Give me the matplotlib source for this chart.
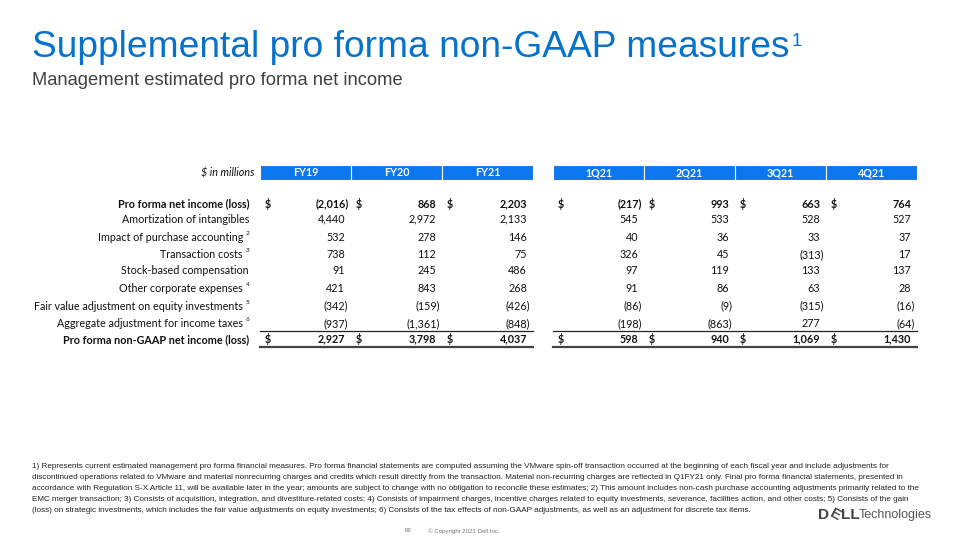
import matplotlib
matplotlib.use("Agg")
import matplotlib.pyplot as plt
from matplotlib.patches import Rectangle

# ---- data ----
row_labels = [
    "Pro forma net income (loss)",
    "Amortization of intangibles",
    "Impact of purchase accounting",
    "Transaction costs",
    "Stock-based compensation",
    "Other corporate expenses",
    "Fair value adjustment on equity investments",
    "Aggregate adjustment for income taxes",
    "Pro forma non-GAAP net income (loss)",
]
row_sups = ["", "", "2", "3", "", "4", "5", "6", ""]
bold_rows = [0, 8]
dollar_rows = [0, 8]

fy_cols = ["FY19", "FY20", "FY21"]
q_cols = ["1Q21", "2Q21", "3Q21", "4Q21"]

fy19 = [-2016, 4440, 532, 738, 91, 421, -342, -937, 2927]
fy20 = [868, 2972, 278, 112, 245, 843, -159, -1361, 3798]
fy21 = [2203, 2133, 146, 75, 486, 268, -426, -848, 4037]
q1_21 = [-217, 545, 40, 326, 97, 91, -86, -198, 598]
q2_21 = [993, 533, 36, 45, 119, 86, -9, -863, 940]
q3_21 = [663, 528, 33, -313, 133, 63, -315, 277, 1069]
q4_21 = [764, 527, 37, 17, 137, 28, -16, -64, 1430]

title = "Supplemental pro forma non-GAAP measures"
subtitle = "Management estimated pro forma net income"
footnotes = [
    "1) Represents current estimated management pro forma financial measures. Pro forma financial statements are computed assuming the VMware spin-off transaction occurred at the beginning of each fiscal year and include adjustments for",
    "discontinued operations related to VMware and material nonrecurring charges and credits which result directly from the transaction. Material non-recurring charges are reflected in Q1FY21 only. Final pro forma financial statements, presented in",
    "accordance with Regulation S-X Article 11, will be available later in the year; amounts are subject to change with no obligation to reconcile these estimates; 2) This amount includes non-cash purchase accounting adjustments primarily related to the",
    "EMC merger transaction; 3) Consists of acquisition, integration, and divestiture-related costs; 4) Consists of impairment charges, incentive charges related to equity investments, severance, facilities action, and other costs; 5) Consists of the gain",
    "(loss) on strategic investments, which includes the fair value adjustments on equity investments; 6) Consists of the tax effects of non-GAAP adjustments, as well as an adjustment for discrete tax items.",
]

DELL_BLUE = "#0672CB"
HEAD_BLUE = "#0B76EE"
TAB_FONT = "Lato"
SANS = "Liberation Sans"

fig = plt.figure(figsize=(9.6, 5.4), dpi=100)
ax = fig.add_axes([0, 0, 1, 1])
ax.set_xlim(0, 960)
ax.set_ylim(540, 0)
ax.axis("off")
renderer = fig.canvas.get_renderer()


def fit_size(text, width, **kw):
    # font size that makes text span the given pixel width
    t = ax.text(0, 0, text, fontsize=10, **kw)
    w = t.get_window_extent(renderer).width
    t.remove()
    return 10 * width / w


def text_w(t):
    return t.get_window_extent(renderer).width


# ---- title ----
ts = fit_size(title, 758, family=SANS)
t = ax.text(32, 57, title, fontsize=ts, family=SANS, color=DELL_BLUE, va="baseline")
ax.text(32 + text_w(t) + 2, 46, "1", fontsize=ts * 0.5, family=SANS,
        color=DELL_BLUE, va="baseline")
ss = fit_size(subtitle, 372, family=SANS)
ax.text(32, 85, subtitle, fontsize=ss, family=SANS, color="#404040", va="baseline")

# ---- table ----
col_w = 91
fy_x0 = 260
q_x0 = 553
head_y, head_h = 165, 15
fy_data = [fy19, fy20, fy21]
q_data = [q1_21, q2_21, q3_21, q4_21]

lab_size = fit_size(row_labels[1], 128, family=TAB_FONT)

ax.text(254, head_y + head_h / 2, "$ in millions", fontsize=lab_size, family=TAB_FONT,
        style="italic", ha="right", va="center", color="#111111")

# row y positions: rows with a footnote mark are taller
row_y = []
y = 204
for i, s in enumerate(row_sups):
    if i > 0:
        y += 17.8 if s else 15.4
    row_y.append(y)

for i, lab in enumerate(row_labels):
    w = "bold" if i in bold_rows else "normal"
    xr = 249 - (6 if row_sups[i] else 0)
    ax.text(xr, row_y[i], lab, fontsize=lab_size, family=TAB_FONT, fontweight=w,
            ha="right", va="center", color="#111111")
    if row_sups[i]:
        ax.text(xr + 2.5, row_y[i] - 4, row_sups[i], fontsize=lab_size * 0.6,
                family=TAB_FONT, ha="left", va="center", color="#111111")


def fmt(v):
    s = f"{abs(v):,}"
    return f"({s})" if v < 0 else s


def draw_group(x0, names, data):
    for j, (name, vals) in enumerate(zip(names, data)):
        left = x0 + j * col_w
        ax.add_patch(Rectangle((left, head_y), col_w, head_h, facecolor=HEAD_BLUE,
                               edgecolor="white", lw=0.8))
        ax.text(left + col_w / 2, head_y + head_h / 2 + 0.5, name, fontsize=lab_size,
                family=TAB_FONT, fontweight="bold", color="white", ha="center", va="center")
        for i, v in enumerate(vals):
            w = "bold" if i in bold_rows else "normal"
            xr = left + (88.5 if v < 0 else 85)
            ax.text(xr, row_y[i], fmt(v), fontsize=lab_size, family=TAB_FONT, fontweight=w,
                    ha="right", va="center", color="#111111")
            if i in dollar_rows:
                ax.text(left + 5, row_y[i], "$", fontsize=lab_size, family=TAB_FONT,
                        fontweight="bold", ha="left", va="center", color="#111111")
    right = x0 + len(names) * col_w
    ax.plot([x0, right], [331, 331], color="#222222", lw=0.9)
    ax.plot([x0, right], [346.5, 346.5], color="#444444", lw=1.6)


draw_group(fy_x0, fy_cols, fy_data)
draw_group(q_x0, q_cols, q_data)

# ---- footnotes ----
FN_FONT = ["Liberation Sans Narrow", "Liberation Sans"]
fs = fit_size(footnotes[2], 896, family=FN_FONT)
for k, line in enumerate(footnotes):
    ax.text(32, 467 + k * 10.8, line, fontsize=fs, family=FN_FONT, color="#222222",
            ha="left", va="center")

# ---- logo and page footer ----
ls = fit_size("DELL", 40, family=SANS, fontweight="bold")
logo_y = 515
ax.text(818, logo_y, "D", fontsize=ls, family=SANS, fontweight="bold", color="#444444",
        ha="left", va="center")
ax.text(835, logo_y, "E", fontsize=ls, family=SANS, fontweight="bold", color="#444444",
        ha="center", va="center", rotation=-28)
ax.text(841.5, logo_y, "LL", fontsize=ls, family=SANS, fontweight="bold", color="#444444",
        ha="left", va="center")
tsz = fit_size("Technologies", 73, family=SANS)
ax.text(859, logo_y, "Technologies", fontsize=tsz, family=SANS, color="#555555",
        ha="left", va="center")

fsz = fit_size("\u00a9 Copyright 2021 Dell Inc.", 72, family=SANS)
ax.text(408, 531, "69", fontsize=fsz, family=SANS, color="#777777", ha="center", va="center")
ax.text(428, 531, "\u00a9 Copyright 2021 Dell Inc.", fontsize=fsz, family=SANS,
        color="#777777", ha="left", va="center")

fig.savefig("out.png", dpi=100, facecolor="white")
